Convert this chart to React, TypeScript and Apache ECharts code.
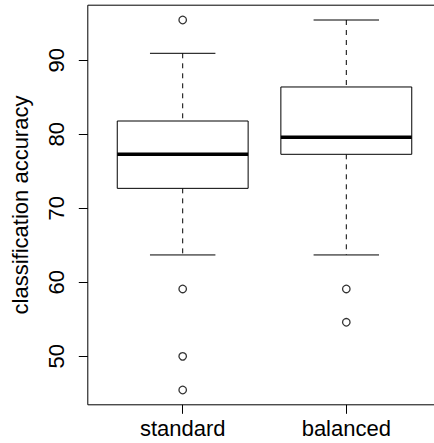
import React, { useEffect, useRef } from "react";
import * as echarts from "echarts";

const categories = ["standard", "balanced"];
const whiskerLow = [63.7, 63.7];
const q1 = [72.7, 77.3];
const median = [77.3, 79.6];
const q3 = [81.8, 86.4];
const whiskerHigh = [90.95, 95.45];
const outliers = [
  [95.45, 59.1, 50.0, 45.45],
  [59.1, 54.6],
];
const yTicks = [50, 60, 70, 80, 90];

const FONT = "'Liberation Sans', Arial, Helvetica, sans-serif";

export default function App() {
  const ref = useRef<HTMLDivElement>(null);
  useEffect(() => {
    if (!ref.current) return;
    const chart = echarts.init(ref.current, undefined, { renderer: "svg" });
    const boxData = categories.map((_, i) => [
      i + 1,
      whiskerLow[i],
      q1[i],
      median[i],
      q3[i],
      whiskerHigh[i],
    ]);
    const outlierData: number[][] = [];
    outliers.forEach((arr, i) => arr.forEach((v) => outlierData.push([i + 1, v])));

    chart.setOption({
      animation: false,
      grid: {
        left: 87.8,
        right: 0.8,
        top: 5.2,
        bottom: 38.2,
        show: true,
        borderColor: "#000",
        borderWidth: 1,
        backgroundColor: "transparent",
      },
      xAxis: {
        type: "value",
        min: 0.42,
        max: 2.58,
        axisLine: { show: false },
        splitLine: { show: false },
        axisTick: {
          show: true,
          customValues: [1, 2],
          length: 9,
          lineStyle: { color: "#000", width: 1 },
        },
        axisLabel: {
          customValues: [1, 2],
          formatter: (v: number) => categories[Math.round(v) - 1] ?? "",
          fontSize: 22,
          fontFamily: FONT,
          color: "#000",
          margin: 13,
        },
      },
      yAxis: {
        type: "value",
        min: 43.45,
        max: 97.45,
        name: "classification accuracy",
        nameLocation: "middle",
        nameRotate: 90,
        nameGap: 56,
        nameTextStyle: { fontSize: 22, fontFamily: FONT, color: "#000" },
        axisLine: { show: false },
        splitLine: { show: false },
        axisTick: {
          show: true,
          customValues: yTicks,
          length: 9,
          lineStyle: { color: "#000", width: 1 },
        },
        axisLabel: {
          customValues: yTicks,
          rotate: 90,
          fontSize: 22,
          fontFamily: FONT,
          color: "#000",
          margin: 20,
        },
      },
      series: [
        {
          type: "custom",
          data: boxData,
          encode: { x: 0, y: [1, 2, 3, 4, 5] },
          renderItem: (params: any, api: any) => {
            const x = api.value(0);
            const lo = api.coord([x, api.value(1)]);
            const a = api.coord([x, api.value(2)]);
            const m = api.coord([x, api.value(3)]);
            const b = api.coord([x, api.value(4)]);
            const hi = api.coord([x, api.value(5)]);
            const cx = m[0];
            const w = api.size([0.8, 0])[0];
            const half = w / 2;
            const sh = w / 4;
            const thin = { stroke: "#000", lineWidth: 1, fill: "none" };
            const dash = { stroke: "#000", lineWidth: 1, lineDash: [5, 5] };
            return {
              type: "group",
              children: [
                { type: "line", shape: { x1: cx, y1: hi[1], x2: cx, y2: b[1] }, style: dash },
                { type: "line", shape: { x1: cx, y1: a[1], x2: cx, y2: lo[1] }, style: dash },
                { type: "line", shape: { x1: cx - sh, y1: hi[1], x2: cx + sh, y2: hi[1] }, style: thin },
                { type: "line", shape: { x1: cx - sh, y1: lo[1], x2: cx + sh, y2: lo[1] }, style: thin },
                {
                  type: "rect",
                  shape: { x: cx - half, y: b[1], width: w, height: a[1] - b[1] },
                  style: { stroke: "#000", lineWidth: 1, fill: "#fff" },
                },
                {
                  type: "line",
                  shape: { x1: cx - half, y1: m[1], x2: cx + half, y2: m[1] },
                  style: { stroke: "#000", lineWidth: 3.5 },
                },
              ],
            };
          },
        },
        {
          type: "scatter",
          data: outlierData,
          symbol: "circle",
          symbolSize: 7.5,
          itemStyle: { color: "#fff", borderColor: "#000", borderWidth: 1.3 },
        },
      ],
    });
    return () => chart.dispose();
  }, []);
  return (
    <div
      ref={ref}
      style={{ position: "fixed", left: 0, top: 0, width: 442, height: 443, background: "#fff" }}
    />
  );
}
